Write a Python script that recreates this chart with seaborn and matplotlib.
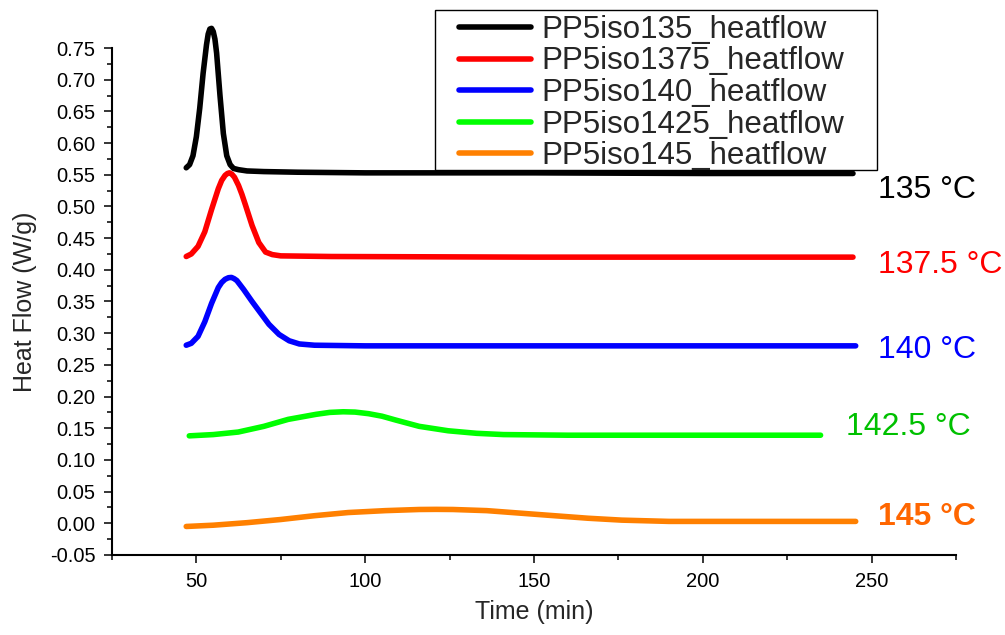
import matplotlib
matplotlib.use("Agg")
import matplotlib.pyplot as plt
import seaborn as sns
import pandas as pd
import numpy as np
from matplotlib.patches import Rectangle
from matplotlib.ticker import MultipleLocator, FormatStrFormatter

# ---- data ----
series_names = ["PP5iso135_heatflow", "PP5iso1375_heatflow", "PP5iso140_heatflow",
                "PP5iso1425_heatflow", "PP5iso145_heatflow"]
line_colors = ["#000000", "#FF0000", "#0000FF", "#00FF00", "#FF8000"]
temp_labels = ["135 °C", "137.5 °C", "140 °C", "142.5 °C", "145 °C"]
text_colors = ["#000000", "#FF0000", "#0000FF", "#00C000", "#FF6600"]

t_135 = [47.0, 48.0, 49.0, 50.0, 51.0, 52.0, 53.0, 53.5, 54.0, 54.5, 55.0, 55.5, 56.0,
         57.0, 58.0, 59.0, 60.0, 61.0, 62.5, 65, 70, 80, 100, 150, 200, 244.5]
hf_135 = [0.561, 0.566, 0.580, 0.610, 0.655, 0.710, 0.755, 0.772, 0.780, 0.781, 0.776,
          0.764, 0.742, 0.675, 0.615, 0.580, 0.566, 0.560, 0.558, 0.556, 0.555, 0.554,
          0.553, 0.553, 0.552, 0.552]

t_1375 = [47.0, 48.5, 50.5, 52.5, 54.5, 56.5, 57.5, 58.5, 59.2, 59.8, 60.5, 61.3, 62.5,
          63.5, 64.5, 66.5, 68.5, 70.5, 72.5, 75, 90, 150, 244.5]
hf_1375 = [0.421, 0.425, 0.437, 0.460, 0.495, 0.528, 0.541, 0.549, 0.552, 0.553, 0.551,
           0.546, 0.533, 0.519, 0.503, 0.470, 0.443, 0.428, 0.424, 0.422, 0.421, 0.420,
           0.420]

t_140 = [47.0, 48.5, 50.5, 52.5, 54.5, 56.5, 57.5, 58.5, 59.5, 60.4, 61.2, 62.0, 64.0,
         66.5, 69.0, 71.5, 74.5, 77.5, 80.5, 85, 100, 245.3]
hf_140 = [0.281, 0.284, 0.295, 0.318, 0.347, 0.372, 0.380, 0.385, 0.3875, 0.388, 0.386,
          0.383, 0.369, 0.350, 0.332, 0.314, 0.298, 0.288, 0.283, 0.281, 0.280, 0.280]

t_1425 = [47.9, 55, 62.4, 70, 77.2, 85.5, 89.5, 93.5, 97, 101, 105, 109, 116, 124.6, 133,
          141, 160, 200, 234.9]
hf_1425 = [0.138, 0.140, 0.144, 0.153, 0.164, 0.172, 0.175, 0.176, 0.1755, 0.173, 0.169,
           0.163, 0.153, 0.146, 0.142, 0.140, 0.139, 0.139, 0.139]

t_145 = [47, 55, 65, 75, 85, 95, 106, 116, 121, 126, 136, 146, 156, 166, 176, 190, 210,
         245.3]
hf_145 = [-0.005, -0.003, 0.001, 0.006, 0.012, 0.017, 0.020, 0.0218, 0.022, 0.0218, 0.020,
          0.016, 0.012, 0.008, 0.005, 0.003, 0.003, 0.003]

times = [t_135, t_1375, t_140, t_1425, t_145]
flows = [hf_135, hf_1375, hf_140, hf_1425, hf_145]

frames = []
for name, t, v in zip(series_names, times, flows):
    frames.append(pd.DataFrame({"Time": t, "HeatFlow": v, "Series": name}))
df = pd.concat(frames, ignore_index=True)

# ---- styling ----
sns.set_style("ticks")
plt.rcParams["font.family"] = ["Liberation Sans", "DejaVu Sans"]

fig = plt.figure(figsize=(10.05, 6.35), dpi=100)
ax = fig.add_axes([0.1114, 0.1260, 0.9512 - 0.1114, 0.9244 - 0.1260])
ax.set_facecolor("none")

sns.lineplot(data=df, x="Time", y="HeatFlow", hue="Series", hue_order=series_names,
             palette=dict(zip(series_names, line_colors)), sort=False, estimator=None,
             linewidth=4.0, ax=ax, legend=False, solid_capstyle="round",
             solid_joinstyle="round")
for ln in ax.get_lines():
    ln.set_clip_on(False)

ax.set_xlim(25, 275)
ax.set_ylim(-0.05, 0.75)
ax.xaxis.set_major_locator(MultipleLocator(50))
ax.xaxis.set_minor_locator(MultipleLocator(25))
ax.yaxis.set_major_locator(MultipleLocator(0.05))
ax.yaxis.set_minor_locator(MultipleLocator(0.025))
ax.yaxis.set_major_formatter(FormatStrFormatter("%.2f"))
xt = ax.get_xticks()
ax.set_xticks([v for v in xt if 50 <= v <= 250])

for side in ["top", "right"]:
    ax.spines[side].set_visible(False)
for side in ["left", "bottom"]:
    ax.spines[side].set_linewidth(1.5)
    ax.spines[side].set_color("black")

ax.tick_params(axis="both", which="major", direction="out", length=6, width=1.1,
               labelsize=14.5, colors="black", pad=6)
ax.tick_params(axis="both", which="minor", direction="out", length=3.5, width=1.1,
               colors="black")
ax.tick_params(axis="x", which="major", pad=6)

ax.set_xlabel("Time (min)", fontsize=18, labelpad=7)
ax.set_ylabel("Heat Flow (W/g)", fontsize=18, labelpad=9)

# temperature annotations
text_x = [251.8, 251.8, 251.8, 242.3, 251.8]
text_y = [0.526, 0.408, 0.274, 0.152, 0.010]
for lab, col, tx, ty, i in zip(temp_labels, text_colors, text_x, text_y, range(5)):
    ax.text(tx, ty, lab, color=col, fontsize=23, ha="left", va="center",
            fontweight="bold" if i == 4 else "normal", clip_on=False)

# legend
fig.add_artist(Rectangle((435 / 1005, 1 - 170 / 635), (877 - 435) / 1005,
                         (170 - 10) / 635, transform=fig.transFigure,
                         facecolor="white", edgecolor="black", linewidth=1.0,
                         zorder=4))
handles = [plt.Line2D([], [], color=c, linewidth=4.0) for c in line_colors]
leg = fig.legend(handles, series_names, loc="center", bbox_to_anchor=(0.648, 1 - 93 / 635),
                 frameon=False, fontsize=22.5, handlelength=2.3, handletextpad=0.33,
                 labelspacing=0.05, borderpad=0.1)
leg.set_zorder(5)

fig.savefig("out.png", dpi=100)
